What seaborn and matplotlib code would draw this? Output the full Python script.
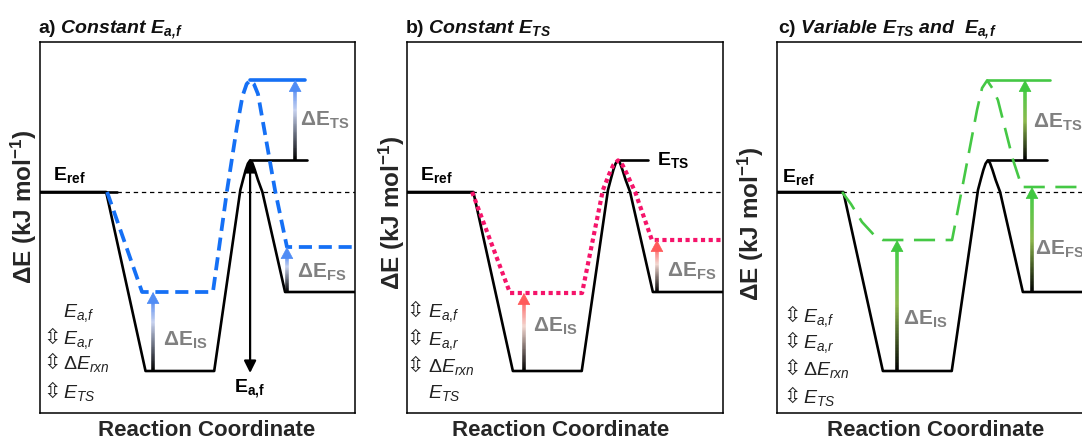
import numpy as np
import matplotlib
matplotlib.use("Agg")
import matplotlib.pyplot as plt
import seaborn as sns
from matplotlib.collections import LineCollection
from matplotlib.colors import LinearSegmentedColormap

# ---------------- data (reaction coordinate 0-100, energy relative to E_ref) ----------------
coord_black = [0, 21, 33.5, 55.3, 63.6, 64.6, 65.3, 66.0, 66.7, 67.4, 68.2, 69.2, 70.6, 77.8, 100]
E_black = [0, 0, -89.5, -89.5, 1, 7, 11, 14.2, 15.8, 14.5, 11, 6, 0, -50, -50]

coord_blue = [21.3, 32.4, 54.9, 59.4, 62.5, 64.3, 65.6, 66.7, 67.9, 69.2, 74.6, 78.4, 100]
E_blue = [0, -50, -50, 1, 32.5, 48, 54, 55.8, 54, 49, 1, -27.5, -27.5]

coord_pink = [20.6, 32.6, 55.4, 62.0, 64.0, 65.3, 66.8, 68.2, 69.6, 72.2, 77.5, 100]
E_pink = [0, -50.5, -50.5, 1, 9, 13.5, 15.8, 13.5, 9, 0, -24, -24]

coord_green = [20.6, 23.4, 26.9, 30.7, 33.5, 55.4, 58.9, 63.3, 64.9, 66.5, 68.1, 69.9, 74.7, 77.5, 100]
E_green = [0, -6, -15, -21.5, -24, -24, 4.5, 41, 52, 55.8, 52, 46, 16, 2.5, 2.5]

E_ref = 0
E_TS_black = 16
E_TS_new = 56
E_IS_black = -89.5
E_FS_black = -50
E_IS_blue, E_FS_blue = -50, -27.5
E_IS_pink, E_FS_pink = -50.5, -24
E_IS_green, E_FS_green = -24, 2.5

titles = [r"$\mathbf{a)}\ \mathbfit{Constant\ E_{a,\!f}}$",
          r"$\mathbf{b)}\ \mathbfit{Constant\ E_{TS}}$",
          r"$\mathbf{c)}\ \mathbfit{Variable\ E_{TS}\ and\ \ E_{a,\!f}}$"]
legend_labels = [r"$E_{a,\!f}$", r"$E_{a,\!r}$", r"$\mathit{ΔE_{rxn}}$", r"$E_{TS}$"]
legend_arrows = [[0, 1, 1, 1], [1, 1, 1, 0], [1, 1, 1, 1]]

# ---------------- style ----------------
sns.set_style("white")
plt.rcParams["font.family"] = ["Liberation Sans", "DejaVu Sans"]
plt.rcParams["mathtext.fontset"] = "custom"
plt.rcParams["mathtext.rm"] = "Liberation Sans"
plt.rcParams["mathtext.it"] = "Liberation Sans:italic"
plt.rcParams["mathtext.bf"] = "Liberation Sans:bold"
plt.rcParams["mathtext.bfit"] = "Liberation Sans:italic:bold"
plt.rcParams["mathtext.sf"] = "Liberation Sans"

BLUE = "#1570f5"
PINK = "#f5146a"
GREEN = "#45c845"
GRAY = "#808080"

W, H = 1082, 441
fig = plt.figure(figsize=(W / 100, H / 100), dpi=100)

box_top, box_bot = 42, 413
lefts = [40, 407, 777]
bw = [315, 316, 316]
axes = []
for l, w in zip(lefts, bw):
    ax = fig.add_axes([l / W, (H - box_bot) / H, w / W, (box_bot - box_top) / H])
    ax.set_xlim(0, 100)
    ax.set_ylim(-110.5, 75)
    axes.append(ax)

LINE_KW = dict(sort=False, estimator=None, solid_joinstyle="round",
               dash_joinstyle="round")


def grad_arrow(ax, x, y0, y1, stops, head):
    hl = 5.0
    n = 80
    ys = np.linspace(y0, y1 - hl + 0.5, n + 1)
    segs = [[(x, ys[i]), (x, ys[i + 1])] for i in range(n)]
    cmap = LinearSegmentedColormap.from_list("g", stops)
    lc = LineCollection(segs, colors=cmap(np.linspace(0, 1, n)), linewidths=2.6,
                        capstyle="butt", zorder=4)
    ax.add_collection(lc)
    ax.annotate("", xy=(x, y1), xytext=(x, y1 - hl),
                arrowprops=dict(arrowstyle="-|>,head_length=0.65,head_width=0.35",
                                mutation_scale=12, fc=head, ec=head, lw=0.5,
                                shrinkA=0, shrinkB=0), zorder=5)


def base(ax, ref_end, ts_end):
    sns.lineplot(x=[ref_end, 100], y=[E_ref, E_ref], ax=ax, color="black", lw=0.9,
                 linestyle=(0, (3.5, 3)), sort=False, estimator=None)
    sns.lineplot(x=coord_black, y=E_black, ax=ax, color="black", lw=1.9, **LINE_KW)
    sns.lineplot(x=[0, ref_end], y=[E_ref, E_ref], ax=ax, color="black", lw=1.9,
                 **LINE_KW)
    sns.lineplot(x=[66.7, ts_end], y=[E_TS_black, E_TS_black], ax=ax, color="black",
                 lw=1.9, **LINE_KW)


def label_bold(ax, x, y, s, size=13, color="black", ha="left"):
    ax.text(x, y, s, fontsize=size, color=color, ha=ha, va="baseline", zorder=6)


def legend(ax, xg, xt, ys, flags):
    for lab, y, f in zip(legend_labels, ys, flags):
        if f:
            ax.text(xg, y, "⇳", fontsize=15, family="DejaVu Sans", ha="center",
                    va="baseline", color="#222222")
        ax.text(xt, y, lab, fontsize=14, ha="left", va="baseline", color="#222222")


# ---------------- panel a ----------------
ax = axes[0]
base(ax, 24.4, 84.8)
sns.lineplot(x=coord_blue, y=E_blue, ax=ax, color=BLUE, lw=2.7,
             linestyle=(0, (3.5, 1.8)), **LINE_KW)
sns.lineplot(x=[66.7, 84.1], y=[E_TS_new, E_TS_new], ax=ax, color=BLUE, lw=2.6,
             **LINE_KW)
stops_b = [(0, "black"), (0.7, "#c6d1ef"), (1, "#5b8ff2")]
grad_arrow(ax, 35.9, E_IS_black, E_IS_blue, stops_b, "#4f8cf5")
grad_arrow(ax, 81, E_TS_black, E_TS_new, stops_b, "#4f8cf5")
grad_arrow(ax, 78.4, E_FS_black, E_FS_blue, stops_b, "#4f8cf5")
ax.annotate("", xy=(66.7, E_IS_black - 1), xytext=(66.7, E_TS_black),
            arrowprops=dict(arrowstyle="<|-|>,head_length=0.6,head_width=0.3",
                            mutation_scale=12, color="black", lw=1.6,
                            shrinkA=0, shrinkB=0), zorder=5)
label_bold(ax, 4.1, 6, r"$\mathbf{E_{ref}}$", 14)
label_bold(ax, 66.7, -100.5, r"$\mathbf{E_{a,\!f}}$", 14, ha="center")
label_bold(ax, 82.5, 33, r"$\mathbf{ΔE_{TS}}$", 15, GRAY)
label_bold(ax, 81.6, -43, r"$\mathbf{ΔE_{FS}}$", 15, GRAY)
label_bold(ax, 39, -77, r"$\mathbf{ΔE_{IS}}$", 15, GRAY)
legend(ax, 3.8, 7.3, [-62.5, -76, -88.5, -103], legend_arrows[0])

# ---------------- panel b ----------------
ax = axes[1]
base(ax, 20.6, 76.3)
sns.lineplot(x=coord_pink, y=E_pink, ax=ax, color=PINK, lw=3.0,
             linestyle=(0, (1, 0.85)), **LINE_KW)
stops_p = [(0, "black"), (0.65, "#f2d6cf"), (1, "#ff6b6b")]
grad_arrow(ax, 37, E_IS_black, E_IS_pink, stops_p, "#ff5a5a")
grad_arrow(ax, 79.1, E_FS_black, E_FS_pink, stops_p, "#ff5a5a")
label_bold(ax, 4.1, 6, r"$\mathbf{E_{ref}}$", 14)
label_bold(ax, 79.1, 13.5, r"$\mathbf{E_{TS}}$", 14)
label_bold(ax, 82.3, -42.5, r"$\mathbf{ΔE_{FS}}$", 15, GRAY)
label_bold(ax, 39.9, -70, r"$\mathbf{ΔE_{IS}}$", 15, GRAY)
legend(ax, 2.5, 6.6, [-62.5, -76.5, -90, -103], legend_arrows[1])

# ---------------- panel c ----------------
ax = axes[2]
base(ax, 20.6, 85.4)
sns.lineplot(x=coord_green, y=E_green, ax=ax, color=GREEN, lw=1.9,
             linestyle=(0, (8, 4)), **LINE_KW)
sns.lineplot(x=[66.5, 86.4], y=[E_TS_new, E_TS_new], ax=ax, color=GREEN, lw=1.9,
             **LINE_KW)
stops_g = [(0, "black"), (0.55, "#8cb94c"), (1, "#48cc48")]
grad_arrow(ax, 38, E_IS_black, E_IS_green, stops_g, "#40c840")
grad_arrow(ax, 78.5, E_TS_black, E_TS_new, stops_g, "#40c840")
grad_arrow(ax, 80.7, E_FS_black, E_FS_green, stops_g, "#40c840")
label_bold(ax, 1.6, 5, r"$\mathbf{E_{ref}}$", 14)
label_bold(ax, 81, 32, r"$\mathbf{ΔE_{TS}}$", 15, GRAY)
label_bold(ax, 81.6, -31.5, r"$\mathbf{ΔE_{FS}}$", 15, GRAY)
label_bold(ax, 39.9, -66.5, r"$\mathbf{ΔE_{IS}}$", 15, GRAY)
legend(ax, 4.7, 8.2, [-65, -78, -91.5, -105.5], legend_arrows[2])

# ---------------- frames, titles, axis labels ----------------
ylab_pos = [(-0.051, 0.555), (-0.047, 0.54), (-0.082, 0.51)]
xlab_pos = [0.530, 0.487, 0.503]
title_x = [-0.006, -0.006, 0.003]
for ax, t, yp, xp, tx in zip(axes, titles, ylab_pos, xlab_pos, title_x):
    ax.set_xticks([])
    ax.set_yticks([])
    ax.set_xlabel("")
    ax.set_ylabel("")
    for s in ax.spines.values():
        s.set_color("black")
        s.set_linewidth(1.1)
    ax.text(tx, 1.024, t, transform=ax.transAxes, fontsize=14, ha="left",
            va="baseline", color="#111111")
    ax.text(yp[0], yp[1], r"$\mathbf{ΔE\ (kJ\ mol^{-1})}$", transform=ax.transAxes,
            rotation=90, fontsize=17.5, ha="center", va="center")
    ax.text(xp, -0.048, "Reaction Coordinate", transform=ax.transAxes,
            fontsize=16, fontweight="bold", ha="center", va="center")

fig.savefig("out.png", dpi=100)
